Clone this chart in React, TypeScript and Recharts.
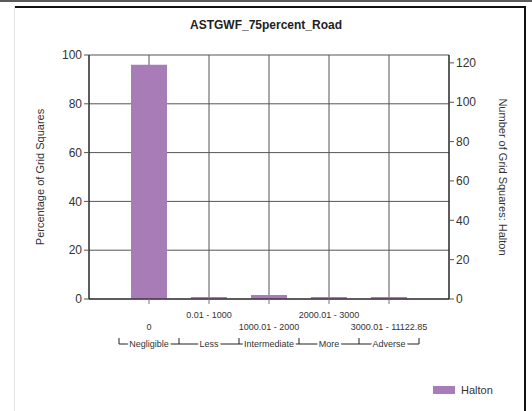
import {
  Bar,
  CartesianGrid,
  ComposedChart,
  Line,
  XAxis,
  YAxis,
} from "recharts";

const ranges = ["0", "0.01 - 1000", "1000.01 - 2000", "2000.01 - 3000", "3000.01 - 11122.85"];
const groups = ["Negligible", "Less", "Intermediate", "More", "Adverse"];
const counts = [119, 1, 2, 1, 1];
const percents = [96.0, 0.8, 1.6, 0.8, 0.8];
const pctTicks = [0, 20, 40, 60, 80, 100];
const countTicks = [0, 20, 40, 60, 80, 100, 120];

const data = ranges.map((range, i) => ({
  range,
  group: groups[i],
  pct: percents[i],
  count: counts[i],
}));

const FONT = "'Liberation Sans', Arial, sans-serif";
const BAND = 60;

function RangeTick(props: any) {
  const { x, y, payload, index } = props;
  const i = payload?.index ?? index ?? 0;
  const last = i === ranges.length - 1;
  const half = BAND / 2;
  return (
    <g fontFamily={FONT} fontSize={9} fill="#333">
      <text x={x} y={y + (i % 2 === 1 ? 13.5 : 26)} textAnchor="middle">
        {payload.value}
      </text>
      <line x1={x - half} y1={y + 40} x2={x + half} y2={y + 40} stroke="#222" />
      <line x1={x - half} y1={y + 34} x2={x - half} y2={y + 40} stroke="#222" />
      {last && <line x1={x + half} y1={y + 34} x2={x + half} y2={y + 40} stroke="#222" />}
      <text
        x={x}
        y={y + 43}
        textAnchor="middle"
        stroke="#fff"
        strokeWidth={4}
        paintOrder="stroke"
      >
        {groups[i]}
      </text>
    </g>
  );
}

export default function App() {
  return (
    <div style={{ position: "absolute", left: 0, top: 0, width: 532, height: 411, background: "#fff", fontFamily: FONT }}>
      <div style={{ position: "absolute", left: 0, top: 0, width: 532, height: 2, background: "#5a5a5a" }} />
      <div style={{ position: "absolute", left: 14, top: 6, width: 511, height: 2, background: "#111" }} />
      <div style={{ position: "absolute", left: 14, top: 6, width: 1, height: 405, background: "#e4e4e4" }} />
      <div style={{ position: "absolute", left: 524, top: 6, width: 2, height: 405, background: "#111" }} />
      <div
        style={{
          position: "absolute",
          left: 0,
          top: 18,
          width: 532,
          textAlign: "center",
          fontSize: 12,
          lineHeight: "14px",
          fontWeight: "bold",
          color: "#222",
        }}
      >
        ASTGWF_75percent_Road
      </div>
      <div style={{ position: "absolute", left: 0, top: 0 }}>
        <ComposedChart
          width={532}
          height={411}
          data={data}
          margin={{ top: 55, right: 33, bottom: 52, left: 39 }}
          barSize={36}
        >
          <CartesianGrid stroke="#555" yAxisId="left" />
          <XAxis
            dataKey="range"
            interval={0}
            padding={{ left: 30, right: 30 }}
            height={60}
            tickSize={5}
            tickMargin={0}
            tickLine={{ stroke: "#777" }}
            axisLine={{ stroke: "#111" }}
            tick={(p: any) => <RangeTick {...p} />}
          />
          <YAxis
            yAxisId="left"
            width={50}
            domain={[0, 100]}
            ticks={pctTicks}
            tickSize={5}
            tickMargin={2}
            axisLine={{ stroke: "#111" }}
            tickLine={{ stroke: "#555" }}
            tick={{ fill: "#333", fontSize: 12, fontFamily: FONT }}
            label={{
              value: "Percentage of Grid Squares",
              angle: -90,
              position: "center",
              dx: -24,
              fill: "#333",
              fontSize: 11,
              fontFamily: FONT,
            }}
          />
          <YAxis
            yAxisId="right"
            orientation="right"
            width={50}
            domain={[0, 124]}
            ticks={countTicks}
            tickSize={5}
            tickMargin={2}
            axisLine={{ stroke: "#111" }}
            tickLine={{ stroke: "#555" }}
            tick={{ fill: "#333", fontSize: 12, fontFamily: FONT }}
            label={{
              value: "Number of Grid Squares: Halton",
              angle: 90,
              position: "center",
              dx: 29,
              fill: "#333",
              fontSize: 11,
              fontFamily: FONT,
            }}
          />
          <Bar yAxisId="left" dataKey="pct" fill="#a87db7" isAnimationActive={false} />
          <Line
            yAxisId="right"
            dataKey="count"
            stroke="none"
            dot={false}
            activeDot={false}
            legendType="none"
            isAnimationActive={false}
          />
        </ComposedChart>
      </div>
      <div style={{ position: "absolute", left: 433, top: 386, width: 22, height: 8, background: "#a87db7" }} />
      <div style={{ position: "absolute", left: 461, top: 383, fontSize: 11, lineHeight: "14px", color: "#333" }}>
        Halton
      </div>
    </div>
  );
}
